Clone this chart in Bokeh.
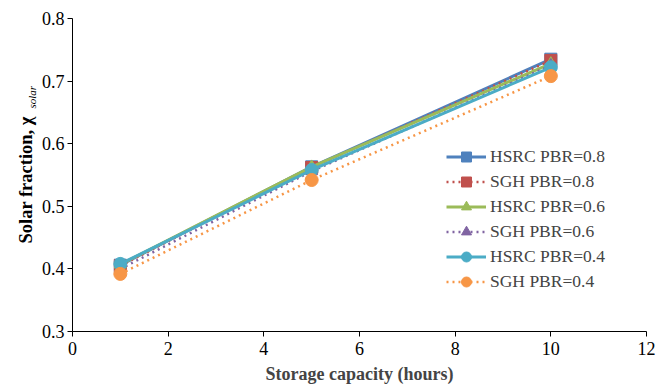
from bokeh.plotting import figure
from bokeh.models import FixedTicker, PrintfTickFormatter, Title, Range1d, Legend
from bokeh.embed import file_html
from bokeh.resources import INLINE

hours = [1, 5, 10]
hsrc_08 = [0.406, 0.563, 0.735]
sgh_08 = [0.405, 0.562, 0.733]
hsrc_06 = [0.407, 0.563, 0.728]
sgh_06 = [0.400, 0.556, 0.725]
hsrc_04 = [0.408, 0.558, 0.722]
sgh_04 = [0.392, 0.542, 0.708]

series = [
    ("HSRC PBR=0.8", hsrc_08, "#4F81BD", "solid", "square", 12),
    ("SGH PBR=0.8", sgh_08, "#C0504D", "dotted", "square", 12),
    ("HSRC PBR=0.6", hsrc_06, "#9BBB59", "solid", "triangle", 12),
    ("SGH PBR=0.6", sgh_06, "#8064A2", "dotted", "triangle", 12),
    ("HSRC PBR=0.4", hsrc_04, "#4BACC6", "solid", "circle", 13),
    ("SGH PBR=0.4", sgh_04, "#F79646", "dotted", "circle", 13),
]

FONT = "Liberation Serif"

p = figure(width=664, height=386, output_backend="svg", toolbar_location=None,
           x_range=Range1d(0, 12), y_range=Range1d(0.3, 0.8),
           min_border_left=72, min_border_right=18, min_border_top=18, min_border_bottom=51)
p.outline_line_color = None
p.grid.visible = False
p.background_fill_color = "white"

items = []
for name, vals, col, style, marker, sz in series:
    if style == "solid":
        r1 = p.line(hours, vals, line_color=col, line_width=3)
    else:
        r1 = p.line(hours, vals, line_color=col, line_width=2.5, line_dash="2 4")
    r2 = p.scatter(hours, vals, marker=marker, size=sz, fill_color=col, line_color=col)
    items.append((name, [r1, r2]))

legend = Legend(items=items, location=(374, 37), border_line_color=None,
                background_fill_alpha=0, padding=0, margin=0, spacing=0,
                label_height=25, glyph_height=25, glyph_width=40,
                label_text_font=FONT, label_text_font_size="17.5px", label_standoff=4)
p.add_layout(legend, "center")

for ax in (p.xaxis[0], p.yaxis[0]):
    ax.axis_line_color = "black"
    ax.major_tick_line_color = "black"
    ax.major_tick_out = 5
    ax.major_tick_in = 0
    ax.minor_tick_line_color = None
    ax.major_label_text_font = FONT
    ax.major_label_text_font_size = "18px"
    ax.major_label_text_color = "black"

p.yaxis.major_label_standoff = 3
p.xaxis.ticker = FixedTicker(ticks=[0, 2, 4, 6, 8, 10, 12])
p.yaxis.ticker = FixedTicker(ticks=[0.3, 0.4, 0.5, 0.6, 0.7, 0.8])
p.yaxis.formatter = PrintfTickFormatter(format="%.1f")
p.xaxis.axis_label = "Storage capacity (hours)"
p.xaxis.axis_label_text_font = FONT
p.xaxis.axis_label_text_font_style = "bold"
p.xaxis.axis_label_text_font_size = "18px"
p.xaxis.axis_label_standoff = 6

# y-axis label built from two side titles: subscript (inner) then main text (outer)
sub = Title(text="solar", align="left", offset=223, vertical_align="top",
            text_font=FONT, text_font_style="italic", text_font_size="11px",
            standoff=0, text_color="black")
main = Title(text="Solar fraction, χ", align="left", offset=88, vertical_align="bottom",
             text_font=FONT, text_font_style="bold", text_font_size="18.5px",
             standoff=0, text_color="black")
try:
    sub.standoff = -2
    main.standoff = -18
except Exception:
    pass
p.add_layout(sub, "left")
p.add_layout(main, "left")

open("out.html", "w").write(file_html(p, INLINE))
